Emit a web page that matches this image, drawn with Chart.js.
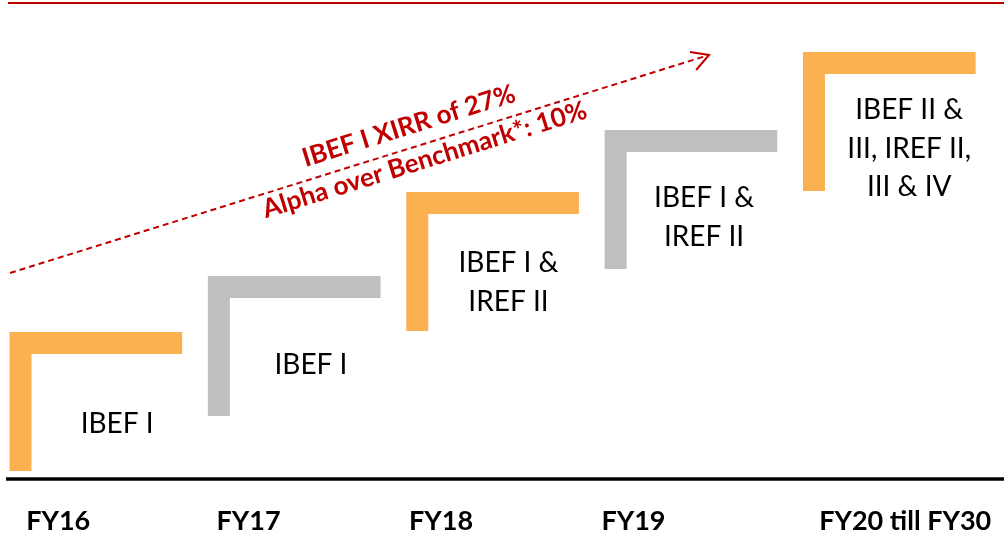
<!DOCTYPE html>
<html>
<head>
<meta charset="utf-8">
<script src="https://cdn.jsdelivr.net/npm/chart.js@4"></script>
<style>
  html, body { margin: 0; padding: 0; background: #fff; }
  #stepsChart { display: block; }
</style>
</head>
<body>
<canvas id="stepsChart" width="1004" height="534"></canvas>
<script>
// x = step index (centre of the vertical bar), y = height above the baseline
const categories = ['FY16', 'FY17', 'FY18', 'FY19', 'FY20 till FY30'];
const categoryX = [0.19, 1.15, 2.12, 3.09, 4.46];
const stepStart = [0.8, 6.3, 14.8, 21.0, 28.8];
const stepLevel = [13.6, 19.2, 27.6, 33.8, 41.6];
const stepWidth = [0.815, 0.815, 0.815, 0.815, 0.815];
const stepColors = ['#FBB150', '#BFBFBF', '#FBB150', '#BFBFBF', '#FBB150'];

const fundLabels = [
  ['IBEF I'],
  ['IBEF I'],
  ['IBEF I &', 'IREF II'],
  ['IBEF I &', 'IREF II'],
  ['IBEF II &', 'III, IREF II,', 'III & IV']
];
const fundLabelX = [0.487, 1.464, 2.46, 3.446, 4.48];
const fundLabelY = [4.6, 10.5, 20.7, 27.2, 36.0];

// dashed growth arrow
const trendX = [-0.053, 3.471];
const trendY = [20.6, 42.4];
const arrowHeadX = [3.375, 3.471, 3.406];
const arrowHeadY = [42.7, 42.4, 40.9];
const trendText = ['IBEF I XIRR of 27%', 'Alpha over Benchmark*: 10%'];
const trendTextX = [1.97, 2.05];
const trendTextY = [34.5, 31.1];

const RED = '#C00000';

const datasets = [];
categories.forEach((c, i) => {
  datasets.push({
    label: c,
    data: [
      { x: i, y: stepStart[i] },
      { x: i, y: stepLevel[i] },
      { x: i + stepWidth[i], y: stepLevel[i] }
    ],
    borderColor: stepColors[i],
    borderWidth: 22,
    borderJoinStyle: 'miter',
    borderCapStyle: 'butt',
    pointRadius: 0,
    tension: 0,
    fill: false
  });
});

// baseline
datasets.push({
  label: 'baseline',
  data: [{ x: -0.073, y: 0 }, { x: 4.96, y: 0 }],
  borderColor: '#000',
  borderWidth: 3.5,
  borderCapStyle: 'butt',
  pointRadius: 0
});

datasets.push({
  label: 'trend',
  data: trendX.map((x, i) => ({ x: x, y: trendY[i] })),
  borderColor: RED,
  borderWidth: 2,
  borderDash: [6, 4],
  borderCapStyle: 'butt',
  pointRadius: 0
});

datasets.push({
  label: 'arrow',
  data: arrowHeadX.map((x, i) => ({ x: x, y: arrowHeadY[i] })),
  borderColor: RED,
  borderWidth: 2,
  borderJoinStyle: 'miter',
  pointRadius: 0
});

const textPlugin = {
  id: 'textPlugin',
  afterDatasetsDraw(chart) {
    const ctx = chart.ctx;
    const xs = chart.scales.x;
    const ys = chart.scales.y;
    ctx.save();

    // red rule at the top
    ctx.strokeStyle = RED;
    ctx.lineWidth = 2;
    ctx.beginPath();
    ctx.moveTo(8, 3);
    ctx.lineTo(chart.width, 3);
    ctx.stroke();

    // labels inside the steps
    ctx.fillStyle = '#000';
    ctx.textAlign = 'center';
    ctx.textBaseline = 'alphabetic';
    ctx.font = '28px Lato';
    fundLabels.forEach((lines, i) => {
      const px = xs.getPixelForValue(fundLabelX[i]);
      const py = ys.getPixelForValue(fundLabelY[i]);
      lines.forEach((t, j) => ctx.fillText(t, px, py + j * 38.5));
    });

    // category labels
    ctx.font = 'bold 27px Lato';
    categories.forEach((c, i) => {
      ctx.fillText(c, xs.getPixelForValue(categoryX[i]), ys.getPixelForValue(-5.1));
    });

    // rotated trend text
    const ang = Math.atan2(
      ys.getPixelForValue(trendY[0]) - ys.getPixelForValue(trendY[1]),
      xs.getPixelForValue(trendX[1]) - xs.getPixelForValue(trendX[0])
    );
    ctx.fillStyle = RED;
    ctx.font = 'bold 26px Lato';
    trendText.forEach((t, i) => {
      ctx.save();
      ctx.translate(xs.getPixelForValue(trendTextX[i]), ys.getPixelForValue(trendTextY[i]));
      ctx.rotate(-ang);
      ctx.fillText(t, 0, 0);
      ctx.restore();
    });

    ctx.restore();
  }
};

new Chart(document.getElementById('stepsChart').getContext('2d'), {
  type: 'line',
  data: { datasets: datasets },
  options: {
    responsive: false,
    animation: false,
    devicePixelRatio: 1,
    layout: { padding: 0 },
    datasets: { line: { clip: false } },
    plugins: { legend: { display: false }, tooltip: { enabled: false } },
    scales: {
      x: { type: 'linear', min: -0.1034, max: 4.958, display: false },
      y: { type: 'linear', min: -5.5, max: 47.9, display: false }
    }
  },
  plugins: [textPlugin]
});
</script>
</body>
</html>
